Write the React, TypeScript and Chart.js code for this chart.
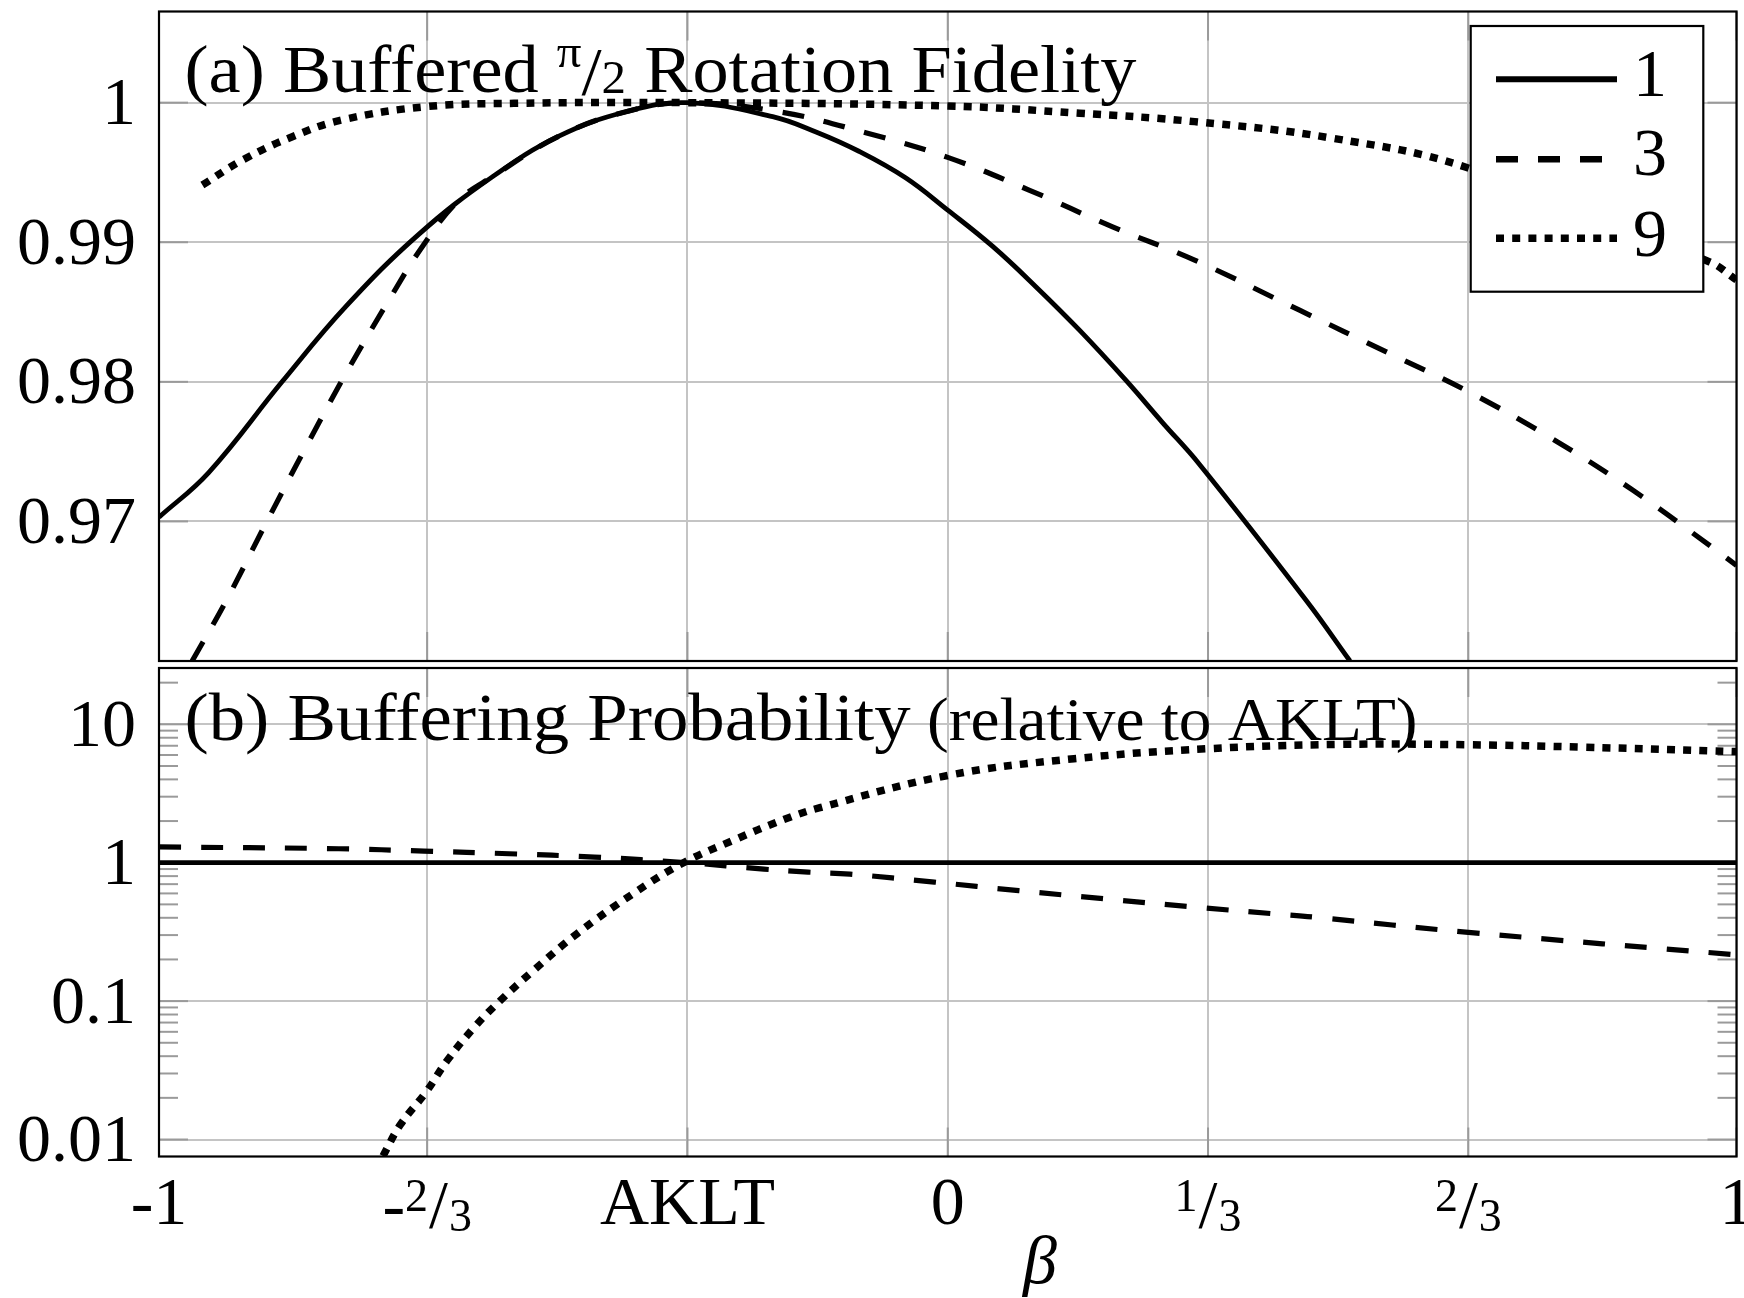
import React, { useEffect, useRef } from "react";
import { Chart, registerables } from "chart.js";

Chart.register(...registerables);

// ---------- axis ticks / labels ----------
const betaTicks = [-1, -0.66, -0.33, 0, 0.33, 0.66, 1];
const betaTickLabels = ["-1", "-2/3", "AKLT", "0", "1/3", "2/3", "1"];
const fidelityTicks = [0.97, 0.98, 0.99, 1];
const fidelityTickLabels = ["0.97", "0.98", "0.99", "1"];
const probTicks = [0.01, 0.1, 1, 10];
const probTickLabels = ["0.01", "0.1", "1", "10"];
const seriesLabels = ["1", "3", "9"];
const xAxisTitle = "β";
const titleA = ["(a) Buffered ", "π", "2", " Rotation Fidelity"];
const titleB = ["(b) Buffering Probability", " (relative to AKLT)"];

// ---------- (a) Buffered pi/2 rotation fidelity ----------
const fidBeta1 = [-1, -0.937, -0.844, -0.763, -0.67, -0.577, -0.493, -0.408, -0.33, -0.222, -0.167, -0.112, -0.053, 0, 0.057, 0.112, 0.167, 0.226, 0.272, 0.319, 0.455, 0.51];
const fid1 = [0.9703, 0.9735, 0.98, 0.9854, 0.9906, 0.9947, 0.9976, 0.99935, 1.0, 0.999, 0.9979, 0.9965, 0.9946, 0.9923, 0.9897, 0.9868, 0.9837, 0.9801, 0.9771, 0.9741, 0.9643, 0.96];

const fidBeta3 = [-0.958, -0.915, -0.865, -0.814, -0.763, -0.708, -0.666, -0.62, -0.577, -0.493, -0.408, -0.33, -0.214, -0.104, 0, 0.103, 0.209, 0.313, 0.446, 0.556, 0.661, 0.763, 0.869, 0.972, 1];
const fid3 = [0.96, 0.9643, 0.9698, 0.9753, 0.9806, 0.9859, 0.9897, 0.993, 0.9947, 0.9976, 0.99935, 1.0, 0.99935, 0.99785, 0.99608, 0.99374, 0.9911, 0.98872, 0.98513, 0.98214, 0.97927, 0.97604, 0.97222, 0.96803, 0.96685];

const fidBeta9 = [-0.945, -0.894, -0.831, -0.768, -0.662, -0.55, -0.33, 0, 0.167, 0.313, 0.488, 0.657, 0.966, 1];
const fid9 = [0.9941, 0.99589, 0.99756, 0.99876, 0.99971, 0.99995, 1.0, 0.99976, 0.99924, 0.99864, 0.99745, 0.99537, 0.98859, 0.9873];

// ---------- (b) Buffering probability relative to AKLT ----------
const probBeta1 = [-1, 1];
const prob1 = [1, 1];

const probBeta3 = [-1, -0.772, -0.664, -0.556, -0.448, -0.33, -0.233, -0.177, -0.124, -0.017, 0.09, 0.198, 0.305, 0.412, 0.467, 0.66, 1];
const prob3 = [1.3, 1.262, 1.213, 1.161, 1.098, 1.0, 0.899, 0.855, 0.827, 0.724, 0.628, 0.549, 0.483, 0.428, 0.403, 0.314, 0.216];

const probBeta9 = [-0.716, -0.694, -0.661, -0.635, -0.601, -0.568, -0.525, -0.47, -0.399, -0.335, -0.272, -0.208, -0.162, 0, 0.16, 0.329, 0.498, 0.66, 0.804, 1];
const prob9 = [0.0076, 0.0128, 0.0222, 0.037, 0.064, 0.1, 0.167, 0.307, 0.597, 1.0, 1.45, 2.05, 2.5, 4.27, 5.64, 6.66, 7.16, 7.12, 6.84, 6.35];

// ---------- styles ----------
const FONT = '"Liberation Serif", "Times New Roman", serif';
const S = 68;
const lineDash = [[], [22, 20], [8, 8.2]];
const lineWidth = [4.8, 5.2, 7.5];
const legendWidth = [6, 6.5, 7.5];
const GRID = "#c4c4c4";
const TICK = "#9a9a9a";

type Run = { t: string; size: number; rise?: number; kern?: number; italic?: boolean };

function fontOf(r: Run) {
  return `${r.italic ? "italic " : ""}${r.size}px ${FONT}`;
}
function runsWidth(ctx: CanvasRenderingContext2D, runs: Run[]) {
  let w = 0;
  for (const r of runs) {
    ctx.font = fontOf(r);
    w += (r.kern || 0) + ctx.measureText(r.t).width;
  }
  return w;
}
function drawRuns(ctx: CanvasRenderingContext2D, runs: Run[], x: number, y: number, align: string, sx = 1) {
  const w = runsWidth(ctx, runs) * sx;
  const x0 = align === "left" ? x : align === "center" ? x - w / 2 : x - w;
  ctx.save();
  ctx.translate(x0, y);
  ctx.scale(sx, 1);
  ctx.textAlign = "left";
  ctx.textBaseline = "alphabetic";
  ctx.fillStyle = "#000";
  let cx = 0;
  for (const r of runs) {
    ctx.font = fontOf(r);
    cx += r.kern || 0;
    ctx.fillText(r.t, cx, -(r.rise || 0));
    cx += ctx.measureText(r.t).width;
  }
  ctx.restore();
}
function tickRuns(label: string): Run[] {
  const m = label.match(/^(-?)(\d+)\/(\d+)$/);
  if (!m) return [{ t: label, size: S }];
  const runs: Run[] = [];
  if (m[1]) runs.push({ t: "-", size: S, rise: -3 });
  runs.push({ t: m[2], size: 46, rise: 13 });
  runs.push({ t: "/", size: S, rise: -3, kern: 1 });
  runs.push({ t: m[3], size: 46, rise: -7, kern: 1 });
  return runs;
}

function line(ctx: CanvasRenderingContext2D, x1: number, y1: number, x2: number, y2: number) {
  ctx.beginPath();
  ctx.moveTo(x1, y1);
  ctx.lineTo(x2, y2);
  ctx.stroke();
}

function zip(xs: number[], ys: number[]) {
  return xs.map((x, i) => ({ x, y: ys[i] }));
}

function makeDatasets(betas: number[][], vals: number[][]) {
  return betas.map((b, i) => ({
    label: seriesLabels[i],
    data: zip(b, vals[i]),
    borderColor: "#000",
    backgroundColor: "#000",
    borderWidth: lineWidth[i],
    borderDash: lineDash[i],
    borderCapStyle: "butt",
    borderJoinStyle: "round",
    pointRadius: 0,
    pointHoverRadius: 0,
    fill: false,
    tension: 0.4,
    clip: 0,
  }));
}

function makeDecor(kind: "top" | "bottom") {
  const yTicks = kind === "top" ? fidelityTicks : probTicks;
  const yLabels = kind === "top" ? fidelityTickLabels : probTickLabels;
  return {
    id: "decor-" + kind,
    beforeDatasetsDraw(chart: any) {
      const ctx: CanvasRenderingContext2D = chart.ctx;
      const { left, right, top, bottom } = chart.chartArea;
      const xs = chart.scales.x;
      const ys = chart.scales.y;
      ctx.save();
      ctx.strokeStyle = TICK;
      ctx.lineWidth = 2;
      for (const v of betaTicks) {
        const px = xs.getPixelForValue(v);
        line(ctx, px, top, px, top + 29);
        line(ctx, px, bottom, px, bottom - 29);
      }
      for (const v of yTicks) {
        const py = ys.getPixelForValue(v);
        line(ctx, left, py, left + 29, py);
        line(ctx, right, py, right - 29, py);
      }
      if (kind === "bottom") {
        for (const d of probTicks) {
          for (let m = 2; m <= 9; m++) {
            const v = d * m;
            if (v <= ys.min || v >= ys.max) continue;
            const py = ys.getPixelForValue(v);
            line(ctx, left, py, left + 19, py);
            line(ctx, right, py, right - 19, py);
          }
        }
      }
      ctx.restore();
    },
    afterDraw(chart: any) {
      const ctx: CanvasRenderingContext2D = chart.ctx;
      const { left, right, top, bottom } = chart.chartArea;
      const xs = chart.scales.x;
      const ys = chart.scales.y;
      ctx.save();
      // frame
      ctx.setLineDash([]);
      ctx.strokeStyle = "#000";
      ctx.lineWidth = 2.2;
      ctx.strokeRect(left, top, right - left, bottom - top);

      // y tick labels
      ctx.fillStyle = "#000";
      ctx.font = `${S}px ${FONT}`;
      ctx.textAlign = "right";
      ctx.textBaseline = "alphabetic";
      yTicks.forEach((v, i) => {
        const py = ys.getPixelForValue(v);
        ctx.fillText(yLabels[i], 136, py + 21.5);
      });

      if (kind === "top") {
        // title (a)
        const runsA: Run[] = [
          { t: titleA[0], size: S },
          { t: titleA[1], size: 46, rise: 25 },
          { t: "/", size: S, rise: -2 },
          { t: titleA[2], size: 46, rise: -1 },
          { t: titleA[3], size: S },
        ];
        const sxA = 952 / runsWidth(ctx, runsA);
        drawRuns(ctx, runsA, 184.5, 91.7, "left", sxA);

        // legend
        const bx = 1470.7, by = 26, bw = 1703.3 - 1470.7, bh = 291.7 - 26;
        ctx.fillStyle = "#fff";
        ctx.fillRect(bx, by, bw, bh);
        ctx.strokeStyle = "#000";
        ctx.lineWidth = 2.2;
        ctx.strokeRect(bx, by, bw, bh);
        const lineY = [79.3, 159.3, 238.3];
        const textY = [96, 175, 255.5];
        for (let i = 0; i < 3; i++) {
          ctx.setLineDash(lineDash[i]);
          ctx.lineCap = "butt";
          ctx.lineWidth = legendWidth[i];
          line(ctx, 1496, lineY[i], 1617, lineY[i]);
          ctx.setLineDash([]);
          ctx.fillStyle = "#000";
          ctx.font = `${S}px ${FONT}`;
          ctx.textAlign = "left";
          ctx.fillText(seriesLabels[i], 1633, textY[i]);
        }
      } else {
        // title (b)
        const runsB: Run[] = [
          { t: titleB[0], size: S },
          { t: titleB[1], size: 61 },
        ];
        const sxB = 1233 / runsWidth(ctx, runsB);
        drawRuns(ctx, runsB, 184.5, 76, "left", sxB);

        // x tick labels
        betaTicks.forEach((v, i) => {
          const px = xs.getPixelForValue(v);
          drawRuns(ctx, tickRuns(betaTickLabels[i]), px, 560, "center");
        });
        // x axis title
        ctx.fillStyle = "#000";
        ctx.font = `italic ${S}px ${FONT}`;
        ctx.textAlign = "center";
        ctx.fillText(xAxisTitle, 1040, 619);
      }
      ctx.restore();
    },
  };
}

function xScale() {
  return {
    type: "linear",
    min: -1,
    max: 1,
    afterBuildTicks: (s: any) => {
      s.ticks = betaTicks.map((v) => ({ value: v }));
    },
    ticks: { display: false },
    grid: { color: GRID, lineWidth: 2, drawTicks: false },
    border: { display: false },
  };
}

const topConfig: any = {
  type: "line",
  data: { datasets: makeDatasets([fidBeta1, fidBeta3, fidBeta9], [fid1, fid3, fid9]) },
  options: {
    responsive: false,
    maintainAspectRatio: false,
    animation: false,
    events: [],
    layout: { padding: { left: 159, right: 7.5, top: 11.5, bottom: 3 } },
    plugins: { legend: { display: false }, tooltip: { enabled: false }, title: { display: false } },
    scales: {
      x: xScale(),
      y: {
        type: "linear",
        min: 0.96,
        max: 1.00653,
        afterBuildTicks: (s: any) => {
          s.ticks = fidelityTicks.map((v) => ({ value: v }));
        },
        ticks: { display: false },
        grid: { color: GRID, lineWidth: 2, drawTicks: false },
        border: { display: false },
      },
    },
  },
  plugins: [makeDecor("top")],
};

const botConfig: any = {
  type: "line",
  data: { datasets: makeDatasets([probBeta1, probBeta3, probBeta9], [prob1, prob3, prob9]) },
  options: {
    responsive: false,
    maintainAspectRatio: false,
    animation: false,
    events: [],
    layout: { padding: { left: 159, right: 7.5, top: 4, bottom: 141.5 } },
    plugins: { legend: { display: false }, tooltip: { enabled: false }, title: { display: false } },
    scales: {
      x: xScale(),
      y: {
        type: "logarithmic",
        min: 0.007538,
        max: 25.52,
        afterBuildTicks: (s: any) => {
          s.ticks = probTicks.map((v) => ({ value: v, major: true }));
        },
        ticks: { display: false },
        grid: { color: GRID, lineWidth: 2, drawTicks: false },
        border: { display: false },
      },
    },
  },
  plugins: [makeDecor("bottom")],
};

export default function App() {
  const topRef = useRef<HTMLCanvasElement>(null);
  const botRef = useRef<HTMLCanvasElement>(null);
  useEffect(() => {
    const c1 = new Chart(topRef.current as HTMLCanvasElement, topConfig);
    const c2 = new Chart(botRef.current as HTMLCanvasElement, botConfig);
    return () => {
      c1.destroy();
      c2.destroy();
    };
  }, []);
  return (
    <div style={{ position: "absolute", left: 0, top: 0, width: 1744, height: 1298, background: "#fff", overflow: "hidden" }}>
      <canvas ref={topRef} width={1744} height={664} style={{ position: "absolute", left: 0, top: 0, width: 1744, height: 664 }} />
      <canvas ref={botRef} width={1744} height={634} style={{ position: "absolute", left: 0, top: 664, width: 1744, height: 634 }} />
    </div>
  );
}
